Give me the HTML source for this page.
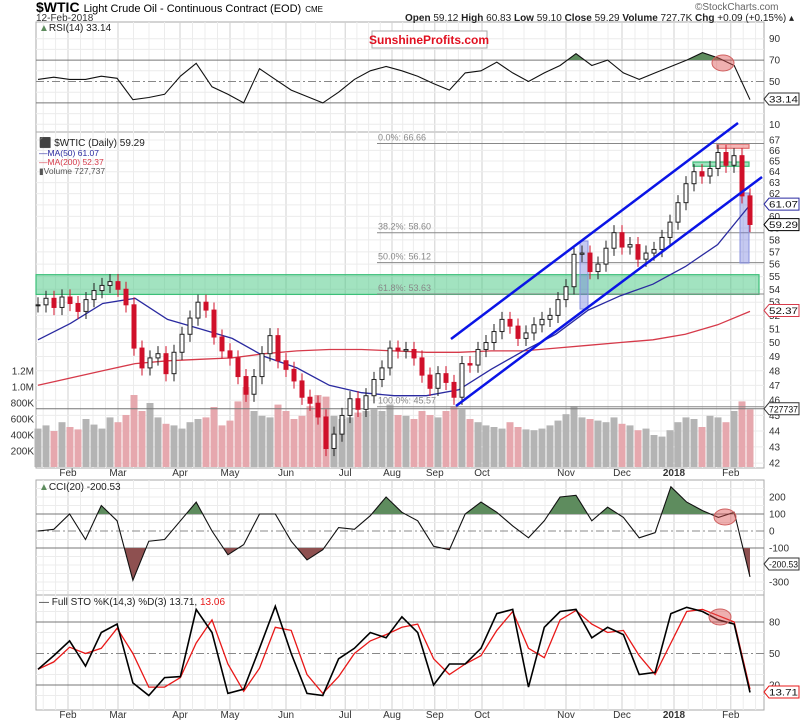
<!DOCTYPE html>
<html><head><meta charset="utf-8"><style>
html,body{margin:0;padding:0;background:#fff;}
svg{display:block;font-family:"Liberation Sans",Arial,sans-serif;}
</style></head><body>
<svg id="chart" width="800" height="725" viewBox="0 0 800 725" xmlns="http://www.w3.org/2000/svg">
<defs>
<clipPath id="rsiUp"><rect x="36" y="0" width="730" height="60"/></clipPath>
<clipPath id="rsiDn"><rect x="36" y="103" width="730" height="40"/></clipPath>
<clipPath id="cciUp"><rect x="36" y="470" width="730" height="44"/></clipPath>
<clipPath id="cciDn"><rect x="36" y="548" width="730" height="50"/></clipPath>
</defs>
<g id="grid"></g>
<g id="marks"></g>
<g id="labels"></g>
</svg>
<script>
const closes=[52.8,53.3,52.6,53.4,52.9,52.3,53.2,53.9,54.3,54.6,54.0,52.8,49.6,48.2,48.9,49.2,47.8,49.3,50.6,51.8,53.0,52.4,50.4,49.4,48.9,47.6,46.4,47.6,49.2,50.5,48.7,48.1,47.3,46.2,45.8,44.9,42.9,43.8,45.0,46.1,45.4,46.3,47.4,48.2,49.6,49.4,49.5,48.9,47.7,46.8,47.8,47.2,46.2,48.5,48.4,49.5,50.0,50.8,51.7,51.2,50.3,50.7,51.3,51.7,52.0,53.2,54.2,56.8,56.9,55.4,56.0,57.3,58.6,57.4,57.6,56.4,56.9,57.2,58.2,59.5,61.2,62.9,64.0,63.6,64.3,65.8,64.6,65.5,61.8,59.3];
const volumes=[480,520,450,560,500,470,600,530,480,620,560,650,900,700,800,620,540,520,480,560,600,620,750,520,580,820,1000,700,640,620,780,700,600,640,760,900,880,640,600,620,680,700,720,700,780,650,640,600,700,650,620,700,760,720,600,560,520,500,480,560,500,470,460,480,520,580,660,760,620,600,580,560,620,540,520,460,480,400,380,460,560,620,600,500,640,620,560,700,820,720];
const ma50=[50.2,51.4,52.9,53.3,51.7,51.0,50.3,49.0,48.2,47.0,46.5,46.3,46.3,46.7,48.1,49.4,50.6,52.4,53.5,54.4,55.8,57.6,61.0];
const ma200=[47.0,47.5,48.0,48.5,48.7,48.8,48.9,49.2,49.4,49.5,49.5,49.4,49.3,49.3,49.4,49.4,49.6,49.8,50.0,50.2,50.6,51.3,52.3];
const rsi=[52,54,52,52,55,53,33,35,38,55,67,45,38,30,62,52,42,36,30,40,52,60,64,60,55,48,42,58,60,68,58,50,58,65,76,65,70,58,52,58,64,70,77,72,65,33];
const cci=[0,10,100,-50,150,60,-290,-60,-50,60,170,0,-140,-80,100,100,-60,-170,-110,20,10,90,200,110,60,-90,-110,100,170,110,30,-40,60,200,210,60,140,80,-40,-10,260,170,120,80,110,-270];
const stoK=[35,48,62,38,70,78,22,10,27,28,92,70,12,16,55,95,50,12,10,45,55,70,65,85,70,20,40,40,55,88,92,18,75,90,92,65,75,68,30,32,88,94,90,82,78,13];
const stoD=[35,42,56,50,55,74,50,18,18,27,60,82,40,14,36,75,72,30,12,28,50,62,68,75,78,45,30,40,48,72,90,55,46,82,91,78,70,72,48,30,60,90,92,86,80,16];
const monthLabels=['Feb','Mar','Apr','May','Jun','Jul','Aug','Sep','Oct','Nov','Dec','2018','Feb'];
const monthPos=[3.75,10,17.75,24,31,38.4,44.25,49.6,55.5,66,73,79.5,86.6];
const priceTicks=[42,43,44,45,46,47,48,49,50,51,52,53,54,55,56,57,58,59,60,61,62,63,64,65,66,67];
const volTicks=[200,400,600,800,1000,1200];
const volTickLabels=['200K','400K','600K','800K','1.0M','1.2M'];
const rsiTicks=[90,70,50,10];
const cciTicks=[200,100,0,-100,-300];
const stoTicks=[80,50,20];
const fibLevels=[66.66,58.60,56.12,53.63,45.57];
const fibNames=['0.0%','38.2%','50.0%','61.8%','100.0%'];

const NS='http://www.w3.org/2000/svg';
const X0=38,X1=750,L=36,R=764;
function xOf(i,n){return X0+(X1-X0)*i/(n-1);}
function yPrice(p){return 140+692*Math.log(67/p);}
function yVol(v){return 467-v*0.08;}
function yRsi(v){return 135-v*1.07;}
function yCci(v){return 531-v*0.17;}
function ySto(v){return 706-v*1.05;}
function mk(tag,attrs,parent,text){const e=document.createElementNS(NS,tag);for(const k in attrs)e.setAttribute(k,attrs[k]);if(text!==undefined)e.textContent=text;document.getElementById(parent).appendChild(e);return e;}
function pts(arr,yf){return arr.map((v,i)=>xOf(i,arr.length).toFixed(1)+','+yf(v).toFixed(1)).join(' ');}

const panels=[[22,132],[132,468],[480,595],[595,710]];
panels.forEach(p=>{const r=mk('rect',{x:L,y:p[0],width:R-L,height:p[1]-p[0],fill:'#fff',stroke:'#aaa','stroke-width':1},'grid');
});
for(let m=-1;m<monthPos.length;m++){
  const a=m<0?monthPos[0]-6.2:monthPos[m];const b=m+1<monthPos.length?monthPos[m+1]:a+6.2;
  for(let w=1;w<4;w++){const x=xOf(a+(b-a)*w/4,90);if(x<L||x>R)continue;
    panels.forEach(p=>{const l=mk('line',{x1:x,x2:x,y1:p[0],y2:p[1],stroke:'#ececec'},'grid');});}
}
monthPos.forEach((mp,k)=>{const x=xOf(mp,90);
  panels.forEach(p=>{const l=mk('line',{x1:x,x2:x,y1:p[0],y2:p[1],stroke:'#d0d0d0'},'grid');});
  [476,718].forEach(y=>{const t=mk('text',{x:x,y:y,'font-size':10,'text-anchor':'middle',fill:'#333','font-weight':monthLabels[k]==='2018'?'bold':'normal'},'labels',monthLabels[k]);});
});
priceTicks.forEach(p=>{const y=yPrice(p);const l=mk('line',{x1:L,x2:R,y1:y,y2:y,stroke:'#ececec'},'grid');
  const t=mk('text',{x:769,y:y+3.5,'font-size':10,fill:'#333'},'labels',String(p));});
volTicks.forEach((v,k)=>{const y=yVol(v);const t=mk('text',{x:34,y:y+3.5,'font-size':10,fill:'#333','text-anchor':'end'},'labels',volTickLabels[k]);});
[10,20,30,40,50,60,70,80,90].forEach(v=>{const y=yRsi(v);const l=mk('line',{x1:L,x2:R,y1:y,y2:y,stroke:v===70||v===30?'#777':(v===50?'#888':'#ececec'),'stroke-dasharray':v===50?'8,3,2,3':'none'},'grid');});
rsiTicks.forEach(v=>{const t=mk('text',{x:769,y:yRsi(v)+3.5,'font-size':10,fill:'#333'},'labels',String(v));});
[250,200,150,100,50,0,-50,-100,-150,-200,-250,-300,-350].forEach(v=>{const y=yCci(v);const ref=v===100||v===-100;const l=mk('line',{x1:L,x2:R,y1:y,y2:y,stroke:ref?'#777':(v===0?'#888':'#ececec'),'stroke-dasharray':v===0?'8,3,2,3':'none'},'grid');});
cciTicks.forEach(v=>{const t=mk('text',{x:769,y:yCci(v)+3.5,'font-size':10,fill:'#333'},'labels',String(v));});
[90,80,70,60,50,40,30,20,10].forEach(v=>{const y=ySto(v);const ref=v===80||v===20;const l=mk('line',{x1:L,x2:R,y1:y,y2:y,stroke:ref?'#777':(v===50?'#888':'#ececec'),'stroke-dasharray':v===50?'8,3,2,3':'none'},'grid');});
stoTicks.forEach(v=>{const t=mk('text',{x:769,y:ySto(v)+3.5,'font-size':10,fill:'#333'},'labels',String(v));});

volumes.forEach((v,i)=>{const x=xOf(i,volumes.length);const down=i>0&&closes[i]<closes[i-1];
  const b=mk('rect',{x:x-3.5,y:yVol(v),width:7,height:467-yVol(v),fill:down?'#e6a8ae':'#b4b4b4'},'marks');
  });
const vl=mk('line',{x1:L,x2:R,y1:yVol(727.7),y2:yVol(727.7),stroke:'#777'},'marks');

function zone(x1,p1,x2,p2,fill,stroke,name){const r=mk('rect',{x:x1,y:yPrice(p1),width:x2-x1,height:yPrice(p2)-yPrice(p1),fill:fill,stroke:stroke,'stroke-width':1.2},'marks');}
zone(L,55.15,759,53.6,'rgba(70,200,130,0.5)','#3cbf78','support-zone');
zone(693,64.9,749,64.5,'rgba(70,200,130,0.5)','#3cbf78','resistance-zone-green');
zone(717,66.6,749,66.2,'rgba(235,110,110,0.5)','#e07070','resistance-zone-red');
fibLevels.forEach((f,k)=>{const y=yPrice(f);const l=mk('line',{x1:377,x2:R,y1:y,y2:y,stroke:'#888','stroke-width':1},'marks');
  const t=mk('text',{x:378,y:y-3,'font-size':9,fill:'#888'},'labels',fibNames[k]+': '+f.toFixed(2));});
[[580,588,241,309],[740,749,193,263]].forEach(r=>{const e=mk('rect',{x:r[0],y:r[2],width:r[1]-r[0],height:r[3]-r[2],fill:'rgba(110,120,220,0.4)',stroke:'#8890dd'},'marks');});

let e=mk('polyline',{points:pts(ma200,yPrice),fill:'none',stroke:'#d63a4a','stroke-width':1.3},'marks');
e=mk('polyline',{points:pts(ma50,yPrice),fill:'none',stroke:'#2a2aa0','stroke-width':1.3},'marks');

closes.forEach((c,i)=>{const o=i>0?closes[i-1]:c;const x=xOf(i,closes.length);const hi=Math.max(o,c)*1.011,lo=Math.min(o,c)*0.989;const down=c<o;const col=down?'#d0102a':'#222';
  const w=mk('line',{x1:x,x2:x,y1:yPrice(hi),y2:yPrice(lo),stroke:col,'stroke-width':1},'marks');
  const top=yPrice(Math.max(o,c)),bot=yPrice(Math.min(o,c));
  const b=mk('rect',{x:x-2,y:top,width:4,height:Math.max(1,bot-top),fill:down?'#d0102a':'#fff',stroke:col,'stroke-width':1},'marks');});

[[451,339,738,123],[456,406,762,177]].forEach(c=>{const l=mk('line',{x1:c[0],y1:c[1],x2:c[2],y2:c[3],stroke:'#0a14e6','stroke-width':2.5},'marks');});

function fill(arr,yf,base,clip,color,name){const n=arr.length;const p=pts(arr,yf)+' '+xOf(n-1,n)+','+yf(base)+' '+xOf(0,n)+','+yf(base);
  const f=mk('polygon',{points:p,fill:color,'clip-path':'url(#'+clip+')'},'marks');}
fill(rsi,yRsi,70,'rsiUp','#5e8c5e','rsi-overbought-fill');
fill(rsi,yRsi,30,'rsiDn','#9a5a5a','rsi-oversold-fill');
fill(cci,yCci,100,'cciUp','#5e8c5e','cci-positive-fill');
fill(cci,yCci,-100,'cciDn','#8e5050','cci-negative-fill');
e=mk('polyline',{points:pts(rsi,yRsi),fill:'none',stroke:'#111','stroke-width':1.1},'marks');
e=mk('polyline',{points:pts(cci,yCci),fill:'none',stroke:'#111','stroke-width':1.1},'marks');
e=mk('polyline',{points:pts(stoD,ySto),fill:'none',stroke:'#e81818','stroke-width':1.3},'marks');
e=mk('polyline',{points:pts(stoK,ySto),fill:'none',stroke:'#000','stroke-width':1.6},'marks');

[[723,63],[725,517],[720,617]].forEach(c=>{const el=mk('ellipse',{cx:c[0],cy:c[1],rx:11,ry:8,fill:'rgba(220,80,80,0.45)',stroke:'#d06060'},'marks');});

function tag(y,txt,color,name){const g=mk('path',{d:`M764 ${y} l5 -6 h30 v12 h-30 z`,fill:'#fff',stroke:color},'labels');
  const t=mk('text',{x:769,y:y+3.5,'font-size':9,fill:'#111',textLength:29,lengthAdjust:'spacingAndGlyphs'},'labels',txt);}
tag(99,'33.14','#333','rsi-value-tag');
tag(yPrice(61.07),'61.07','#2a2aa0','ma50-value-tag');
tag(yPrice(59.29),'59.29','#000','close-value-tag');
tag(yPrice(52.37),'52.37','#d63a4a','ma200-value-tag');
tag(yVol(727.7),'727737','#333','volume-value-tag');
tag(564,'-200.53','#333','cci-value-tag');
tag(692,'13.71','#e81818','sto-value-tag');
</script>
<svg style="position:absolute;left:0;top:0" width="800" height="725">
<text x="36" y="12" font-family="Liberation Sans"><tspan font-size="14" font-weight="bold">$WTIC</tspan><tspan font-size="11" dx="4">Light Crude Oil - Continuous Contract (EOD)</tspan><tspan font-size="8" dx="4">CME</tspan></text>
<text x="36" y="21" font-size="10" font-family="Liberation Sans" fill="#333">12-Feb-2018</text>
<text x="695" y="10" font-size="10" font-family="Liberation Sans" fill="#666">©StockCharts.com</text>
<text x="405" y="21" font-size="10" font-family="Liberation Sans" fill="#222"><tspan font-weight="bold">Open</tspan> 59.12 <tspan font-weight="bold">High</tspan> 60.83 <tspan font-weight="bold">Low</tspan> 59.10 <tspan font-weight="bold">Close</tspan> 59.29 <tspan font-weight="bold">Volume</tspan> 727.7K <tspan font-weight="bold">Chg</tspan> +0.09 (+0.15%) ▴</text>
<rect x="372" y="31" width="115" height="17" fill="#fff" stroke="#aaa"/>
<text x="429" y="44" font-size="12" font-weight="bold" font-family="Liberation Sans" fill="#e01020" text-anchor="middle">SunshineProfits.com</text>
<text x="39" y="31" font-size="10" font-family="Liberation Sans" fill="#222"><tspan fill="#5e8c5e">▲</tspan>RSI(14) 33.14</text>
<text x="39" y="146" font-size="10" font-family="Liberation Sans" fill="#222">⬛ $WTIC (Daily) 59.29</text>
<text x="39" y="156" font-size="8.5" font-family="Liberation Sans" fill="#2a2aa0">—MA(50) 61.07</text>
<text x="39" y="165" font-size="8.5" font-family="Liberation Sans" fill="#d63a4a">—MA(200) 52.37</text>
<text x="39" y="174" font-size="8.5" font-family="Liberation Sans" fill="#555">▮Volume 727,737</text>
<text x="39" y="490" font-size="10" font-family="Liberation Sans" fill="#222"><tspan fill="#5e8c5e">▲</tspan>CCI(20) -200.53</text>
<text x="39" y="605" font-size="10" font-family="Liberation Sans" fill="#222">— Full STO %K(14,3) %D(3) 13.71, <tspan fill="#e81818">13.06</tspan></text>
</svg>
</body></html>
